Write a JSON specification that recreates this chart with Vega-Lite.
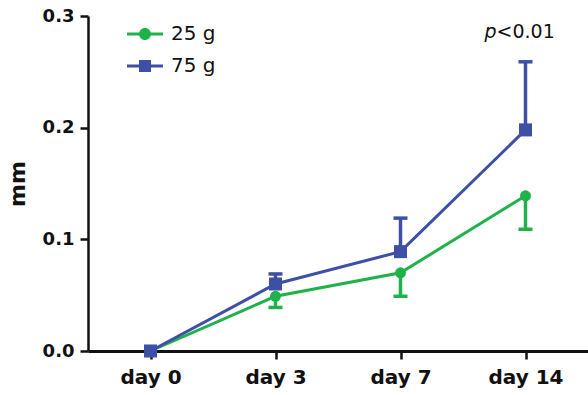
{
  "$schema": "https://vega.github.io/schema/vega-lite/v6.json",
  "width": 500,
  "height": 335,
  "autosize": "none",
  "padding": {"left": 88, "top": 16, "right": 0, "bottom": 44},
  "background": "white",
  "config": {
    "view": {"stroke": null},
    "font": "DejaVu Sans",
    "axis": {
      "domainColor": "#111111",
      "domainWidth": 2.5,
      "tickColor": "#111111",
      "tickWidth": 2.5,
      "tickSize": 8,
      "grid": false,
      "labelColor": "#111111",
      "labelFont": "DejaVu Sans",
      "labelFontWeight": "bold",
      "titleColor": "#111111",
      "titleFont": "DejaVu Sans",
      "titleFontWeight": "bold"
    }
  },
  "data": {
    "values": [
      {"day": "day 0", "group": "25 g", "mean": 0.0, "err": null},
      {"day": "day 3", "group": "25 g", "mean": 0.049, "err": 0.039},
      {"day": "day 7", "group": "25 g", "mean": 0.07, "err": 0.049},
      {"day": "day 14", "group": "25 g", "mean": 0.139, "err": 0.109},
      {"day": "day 0", "group": "75 g", "mean": 0.0, "err": null},
      {"day": "day 3", "group": "75 g", "mean": 0.06, "err": 0.069},
      {"day": "day 7", "group": "75 g", "mean": 0.089, "err": 0.119},
      {"day": "day 14", "group": "75 g", "mean": 0.198, "err": 0.259}
    ]
  },
  "encoding": {
    "x": {
      "field": "day",
      "type": "ordinal",
      "sort": ["day 0", "day 3", "day 7", "day 14"],
      "scale": {"type": "point", "padding": 0.5},
      "axis": {"title": null, "labelAngle": 0, "labelFontSize": 20, "labelPadding": 8, "domainWidth": 3}
    },
    "y": {
      "field": "mean",
      "type": "quantitative",
      "scale": {"domain": [0, 0.3], "nice": false},
      "axis": {"title": "mm", "titleFontSize": 22, "titlePadding": 13, "values": [0, 0.1, 0.2, 0.3], "format": ".1f", "labelFontSize": 18, "labelPadding": 6}
    }
  },
  "layer": [
    {
      "transform": [{"filter": "datum.group === '25 g'"}],
      "layer": [
        {"mark": {"type": "line", "strokeWidth": 3, "color": "#1fb24a"}},
        {
          "transform": [{"filter": "datum.err != null"}],
          "mark": {"type": "rule", "strokeWidth": 3.5, "color": "#1fb24a"},
          "encoding": {"y2": {"field": "err"}}
        },
        {
          "transform": [{"filter": "datum.err != null"}],
          "mark": {"type": "tick", "orient": "horizontal", "size": 14, "thickness": 3.5, "opacity": 1, "color": "#1fb24a"},
          "encoding": {"y": {"field": "err", "type": "quantitative"}}
        },
        {"mark": {"type": "point", "shape": "circle", "filled": true, "opacity": 1, "size": 120, "color": "#1fb24a"}}
      ]
    },
    {
      "transform": [{"filter": "datum.group === '75 g'"}],
      "layer": [
        {"mark": {"type": "line", "strokeWidth": 3, "color": "#3d50a6"}},
        {
          "transform": [{"filter": "datum.err != null"}],
          "mark": {"type": "rule", "strokeWidth": 3.5, "color": "#3d50a6"},
          "encoding": {"y2": {"field": "err"}}
        },
        {
          "transform": [{"filter": "datum.err != null"}],
          "mark": {"type": "tick", "orient": "horizontal", "size": 14, "thickness": 3.5, "opacity": 1, "color": "#3d50a6"},
          "encoding": {"y": {"field": "err", "type": "quantitative"}}
        },
        {"mark": {"type": "point", "shape": "square", "filled": true, "opacity": 1, "size": 170, "color": "#3d50a6"}}
      ]
    },
    {
      "transform": [{"filter": "false"}],
      "mark": {"type": "point", "filled": true, "opacity": 1},
      "encoding": {
        "color": {
          "field": "group",
          "type": "nominal",
          "scale": {"domain": ["25 g", "75 g"], "range": ["#1fb24a", "#3d50a6"]},
          "legend": {
            "title": null,
            "orient": "none",
            "legendX": 47,
            "legendY": 8,
            "labelFontSize": 20,
            "labelFont": "DejaVu Sans",
            "labelColor": "#111111",
            "labelOffset": 16,
            "rowPadding": 12,
            "symbolSize": 4
          }
        },
        "shape": {
          "field": "group",
          "type": "nominal",
          "scale": {"domain": ["25 g", "75 g"], "range": ["M-18,-1.5H18V1.5H-18Z M6,0A6,6 0 1,1 -6,0A6,6 0 1,1 6,0Z", "M-18,-1.5H18V1.5H-18Z M-6,-6H6V6H-6Z"]},
          "legend": {
            "title": null,
            "orient": "none",
            "legendX": 47,
            "legendY": 8,
            "labelFontSize": 20,
            "labelFont": "DejaVu Sans",
            "labelColor": "#111111",
            "labelOffset": 16,
            "rowPadding": 12,
            "symbolSize": 4
          }
        }
      }
    },
    {
      "data": {"values": [{"day": "day 14", "y": 0.286, "t": "p"}]},
      "mark": {"type": "text", "align": "right", "baseline": "middle", "fontSize": 19, "fontStyle": "italic", "font": "DejaVu Sans", "dx": -29, "color": "#111111"},
      "encoding": {
        "y": {"field": "y", "type": "quantitative"},
        "text": {"field": "t"}
      }
    },
    {
      "data": {"values": [{"day": "day 14", "y": 0.286, "t": "<0.01"}]},
      "mark": {"type": "text", "align": "left", "baseline": "middle", "fontSize": 19, "font": "DejaVu Sans", "dx": -29, "color": "#111111"},
      "encoding": {
        "y": {"field": "y", "type": "quantitative"},
        "text": {"field": "t"}
      }
    }
  ]
}
